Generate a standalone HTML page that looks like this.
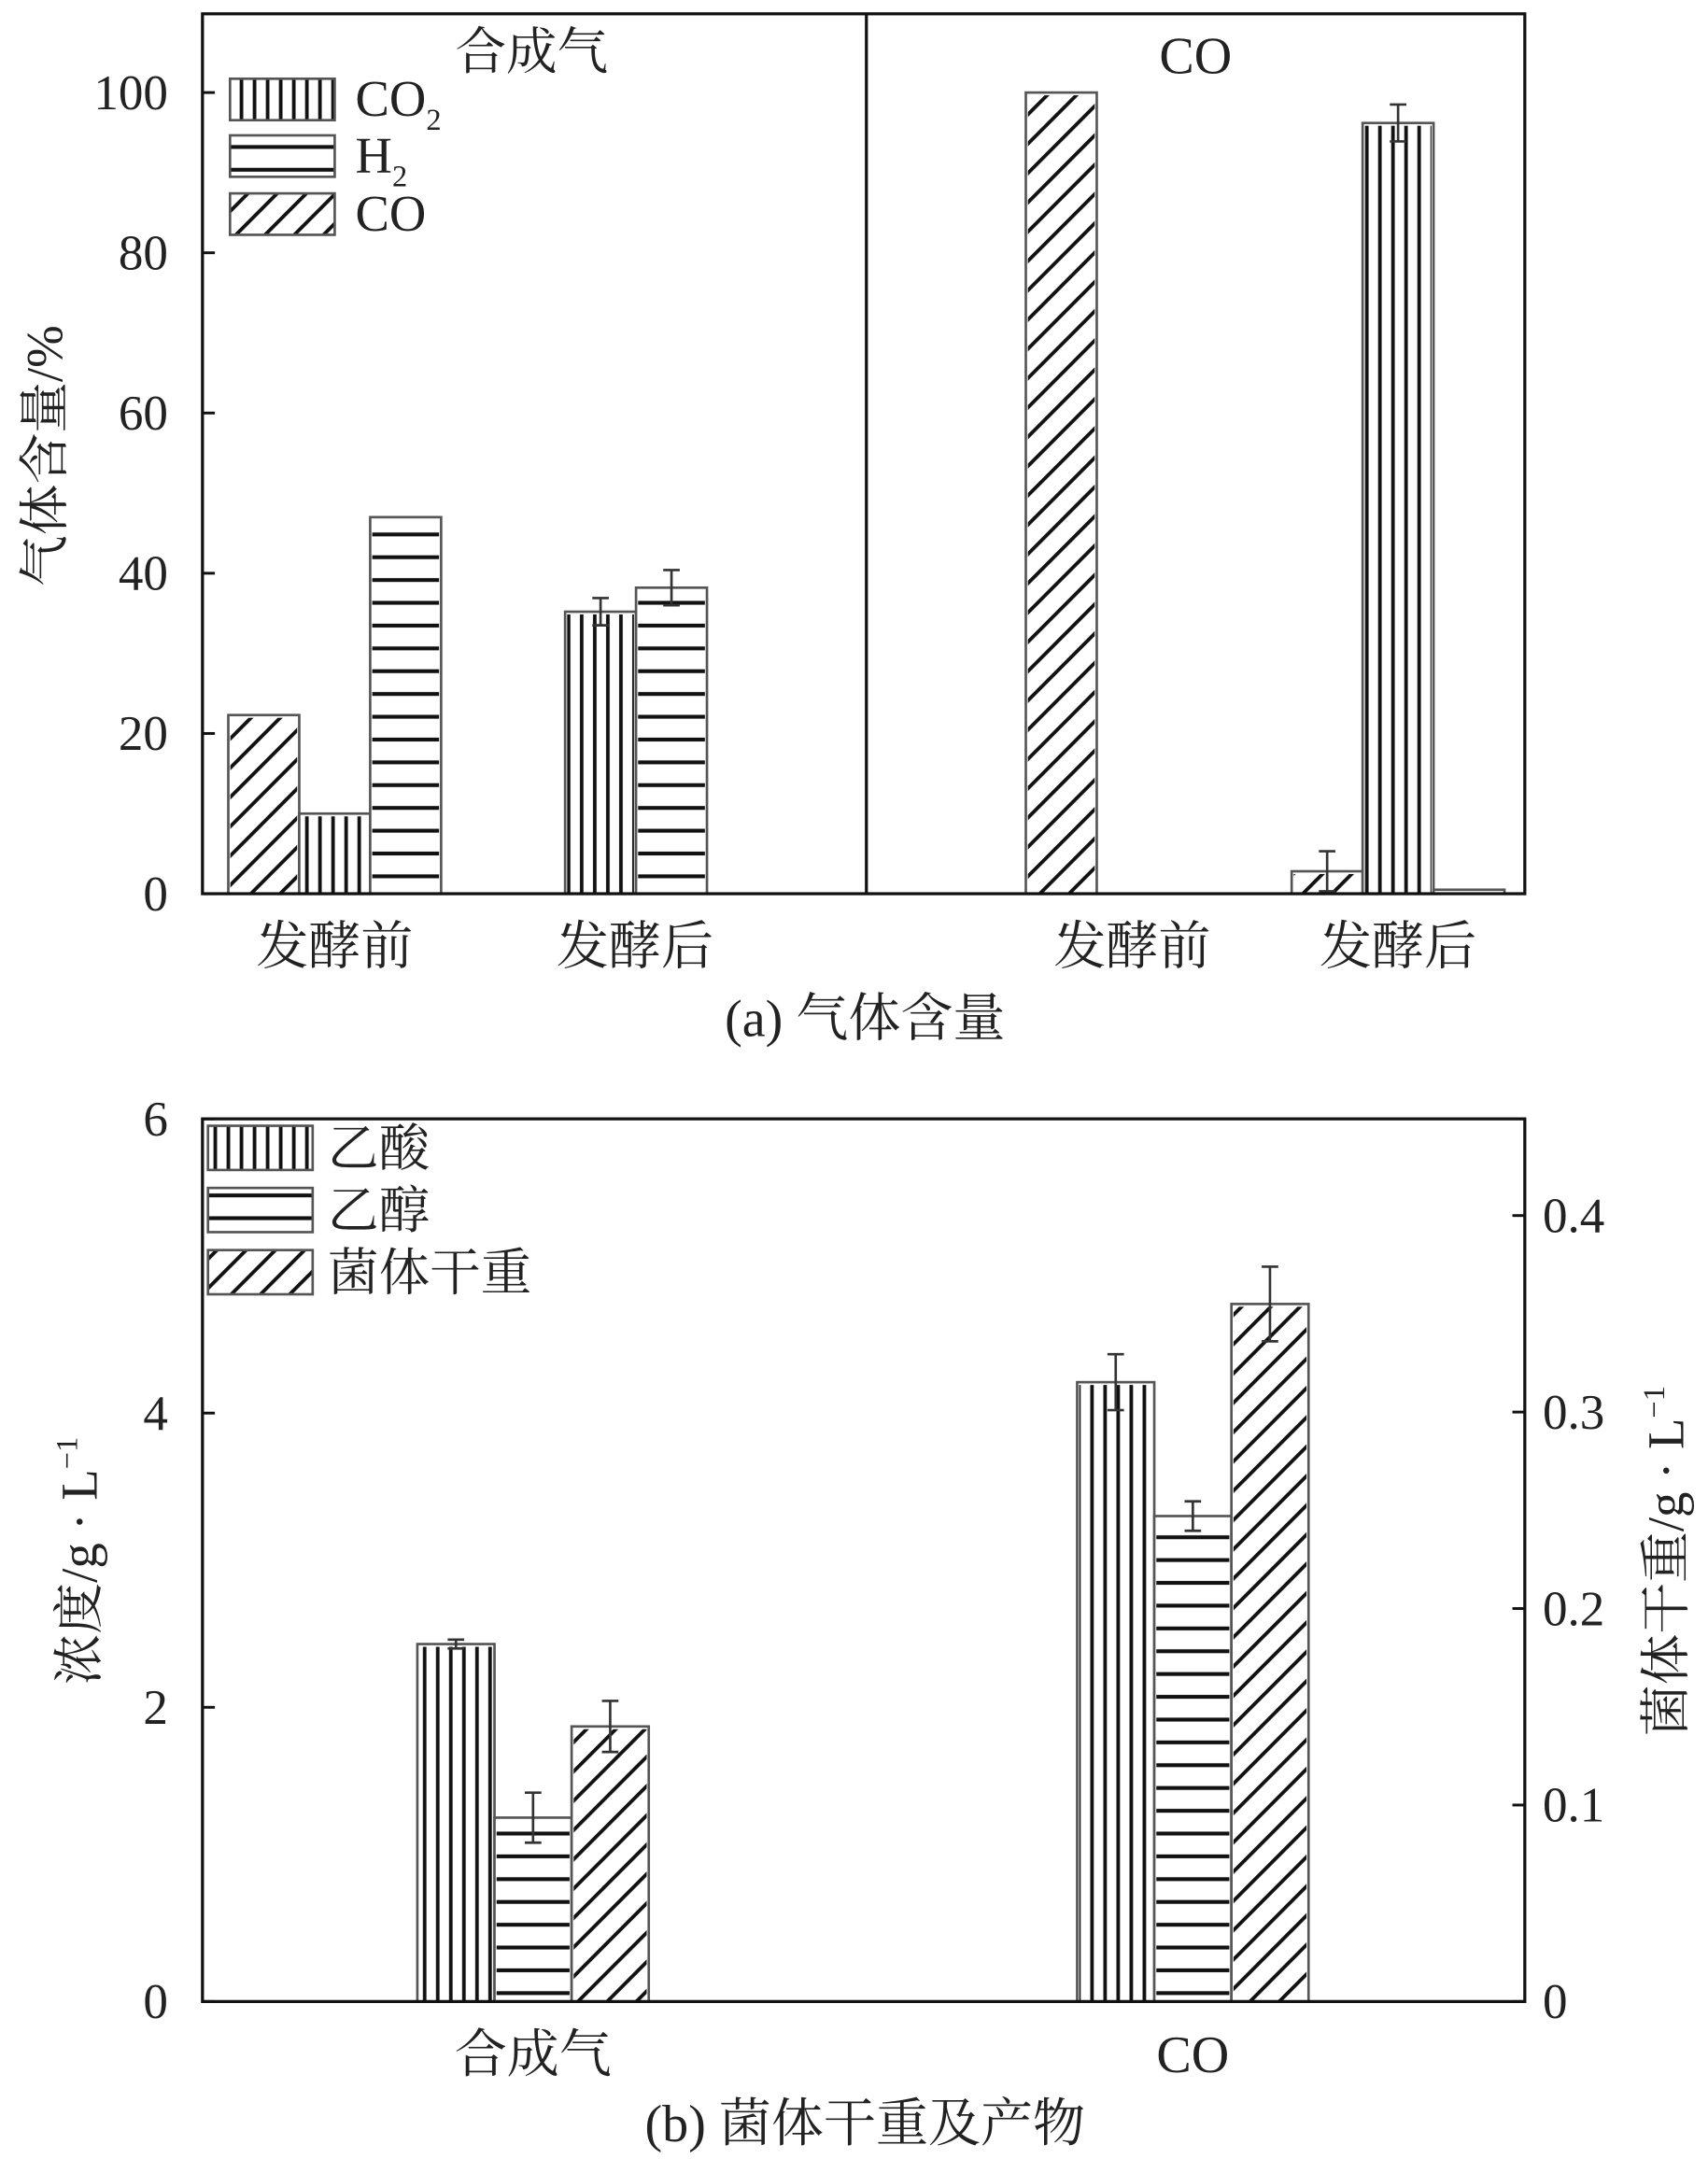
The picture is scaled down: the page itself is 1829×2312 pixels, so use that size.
<!DOCTYPE html>
<html><head><meta charset="utf-8"><style>
html,body{margin:0;padding:0;background:#fff}
svg{display:block}
text{font-family:"Liberation Serif","Noto Serif CJK SC","Noto Sans CJK SC",serif;fill:#222}
</style></head><body>
<svg id="chart" width="1829" height="2312" viewBox="0 0 1240 1563" preserveAspectRatio="none" xmlns="http://www.w3.org/2000/svg">
<defs>
<pattern id="pv" patternUnits="userSpaceOnUse" width="9.5" height="10"><rect x="3" y="0" width="2.6" height="10" fill="#111"/></pattern>
<pattern id="ph" patternUnits="userSpaceOnUse" width="10" height="16.5"><rect x="0" y="6" width="10" height="2.8" fill="#111"/></pattern>
<pattern id="pd" patternUnits="userSpaceOnUse" width="15" height="15" patternTransform="rotate(45)"><rect x="0" y="0" width="2.6" height="15" fill="#111"/></pattern>
</defs>
<g id="pa"></g>
<g id="pb"></g>
</svg>
<script>
// ---- Chart (a) data ----
const aCategories = ["发酵前","发酵后","发酵前","发酵后"];
const aSlots = [0,1,3,4];
const aCO  = [22.3, 0, 100, 2.8];
const aCO2 = [10, 35.2, 0, 96.2];
const aH2  = [47, 38.2, 0, 0.5];
const aCOerr  = [0, 0, 0, 2.5];
const aCO2err = [0, 1.7, 0, 2.3];
const aH2err  = [0, 2.2, 0, 0];
const aTicks = [0,20,40,60,80,100];
// ---- Chart (b) data ----
const bCategories = ["合成气","CO"];
const bAcid = [2.43, 4.21];
const bAcidErr = [0.03, 0.19];
const bEthanol = [1.25, 3.30];
const bEthanolErr = [0.17, 0.10];
const bBiomass = [0.14, 0.355];
const bBiomassErr = [0.013, 0.019];
const bLeftTicks = [0,2,4,6];
const bRightTicks = ["0","0.1","0.2","0.3","0.4"];

const NS="http://www.w3.org/2000/svg";
function mk(parent,tag,attrs,txt){const e=document.createElementNS(NS,tag);for(const k in attrs)e.setAttribute(k,attrs[k]);if(txt!==undefined)e.textContent=txt;parent.appendChild(e);return e;}

// ===== Chart A =====
const A=document.getElementById('pa');
const aL=147,aR=1107,aT=10,aB=647;
const ay=v=>aB-(v/100)*(aB-67);
const ax=i=>243+193*i;
const bw=51.5;
function errBar(g,x,top,bot){
  const e=mk(g,'path',{d:`M${x},${top}V${bot}M${x-6},${top}H${x+6}M${x-6},${bot}H${x+6}`,stroke:'#333','stroke-width':1.8,fill:'none'});
  
  
}
const aSeries=[[aCO,aCOerr,'pd','co'],[aCO2,aCO2err,'pv','co2'],[aH2,aH2err,'ph','h2']];
aSlots.forEach((s,gi)=>{
  const c=ax(s);
  aSeries.forEach((ser,si)=>{
    const v=ser[0][gi]; if(v<=0) return;
    const x0=c-1.5*bw+si*bw, y0=ay(v);
    const r=mk(A,'rect',{x:x0,y:y0,width:bw,height:aB-y0,fill:'#fff',stroke:'none'});
    
    
    mk(A,'rect',{x:x0+1.5,y:y0+2,width:bw-3,height:aB-y0-2,fill:`url(#${ser[2]})`});
    mk(A,'rect',{x:x0,y:y0,width:bw,height:aB-y0,fill:'none',stroke:'#555','stroke-width':1.8});
    const er=ser[1][gi];
    if(er>0) errBar(A,x0+bw/2,ay(v+er),ay(v-er));
  });
  const t=mk(A,'text',{x:c+(gi===1?25:0),y:698,'font-size':38,'text-anchor':'middle'},aCategories[gi]);
  
  
});
aTicks.forEach(v=>{
  mk(A,'line',{x1:aL,x2:aL+9,y1:ay(v),y2:ay(v),stroke:'#111','stroke-width':2});
  const t=mk(A,'text',{x:122,y:ay(v)+12,'font-size':36,'text-anchor':'end'},v);
  
  
});
mk(A,'rect',{x:aL,y:aT,width:aR-aL,height:aB-aT,fill:'none',stroke:'#111','stroke-width':2.2});
mk(A,'line',{x1:ax(2),x2:ax(2),y1:aT,y2:aB,stroke:'#111','stroke-width':2.2});
let t;
t=mk(A,'text',{x:386,y:50,'font-size':37,'text-anchor':'middle'},'合成气');
t=mk(A,'text',{x:868,y:53,'font-size':38,'text-anchor':'middle'},'CO');
t=mk(A,'text',{x:0,y:0,'font-size':37,'text-anchor':'middle',transform:'translate(45,330) rotate(-90)'},'气体含量/%');
t=mk(A,'text',{x:628,y:750,'font-size':38,'text-anchor':'middle'},'(a) 气体含量');
// legend A
[['pv',57,'CO','2'],['ph',98,'H','2'],['pd',140,'CO','']].forEach(l=>{
  const g=mk(A,'g',{});
  
  
  mk(g,'rect',{x:167,y:l[1],width:76,height:30,fill:`url(#${l[0]})`,stroke:'#555','stroke-width':1.8});
  const tx=mk(g,'text',{x:258,y:l[1]+27,'font-size':37},l[2]);
  if(l[3]){mk(tx,'tspan',{'font-size':22,dy:10},l[3]);}
});

// ===== Chart B =====
const B=document.getElementById('pb');
const bL=147,bR=1107,bT=810,bB=1449;
const byL=v=>bB-(v/6)*(bB-bT);
const byR=v=>bB-(v/0.4)*(bB-880);
const bx=i=>387+479*i;
const bbw=56;
const bSeries=[[bAcid,bAcidErr,'pv','acetic-acid',byL],[bEthanol,bEthanolErr,'ph','ethanol',byL],[bBiomass,bBiomassErr,'pd','dry-cell-weight',byR]];
bCategories.forEach((cat,gi)=>{
  const c=bx(gi);
  bSeries.forEach((ser,si)=>{
    const v=ser[0][gi],sc=ser[4];
    const x0=c-1.5*bbw+si*bbw,y0=sc(v);
    const r=mk(B,'rect',{x:x0,y:y0,width:bbw,height:bB-y0,fill:'#fff'});
    
    
    mk(B,'rect',{x:x0+1.5,y:y0+2,width:bbw-3,height:bB-y0-2,fill:`url(#${ser[2]})`});
    mk(B,'rect',{x:x0,y:y0,width:bbw,height:bB-y0,fill:'none',stroke:'#555','stroke-width':1.8});
    const er=ser[1][gi];
    errBar(B,x0+bbw/2,sc(v+er),sc(v-er));
  });
  const tt=mk(B,'text',{x:c,y:1500,'font-size':38,'text-anchor':'middle'},cat);
  
  
});
bLeftTicks.forEach(v=>{
  mk(B,'line',{x1:bL,x2:bL+9,y1:byL(v),y2:byL(v),stroke:'#111','stroke-width':2});
  const tt=mk(B,'text',{x:122,y:byL(v)+12,'font-size':36,'text-anchor':'end'},v);
  
  
});
bRightTicks.forEach(s=>{
  const v=parseFloat(s);
  mk(B,'line',{x1:bR-9,x2:bR,y1:byR(v),y2:byR(v),stroke:'#111','stroke-width':2});
  const tt=mk(B,'text',{x:1120,y:byR(v)+12,'font-size':36},s);
  
  
});
mk(B,'rect',{x:bL,y:bT,width:bR-bL,height:bB-bT,fill:'none',stroke:'#111','stroke-width':2.2});
t=mk(B,'text',{x:0,y:0,'font-size':37,'text-anchor':'middle',transform:'translate(70,1130) rotate(-90)'});
t.innerHTML='浓度/g · L<tspan font-size="22" dy="-14">−1</tspan>';

t=mk(B,'text',{x:0,y:0,'font-size':37,'text-anchor':'middle',transform:'translate(1222,1130) rotate(-90)'});
t.innerHTML='菌体干重/g · L<tspan font-size="22" dy="-14">−1</tspan>';

t=mk(B,'text',{x:628,y:1550,'font-size':38,'text-anchor':'middle'},'(b) 菌体干重及产物');
[['pv',815,'乙酸'],['ph',860,'乙醇'],['pd',905,'菌体干重']].forEach(l=>{
  const g=mk(B,'g',{});
  
  
  mk(g,'rect',{x:151,y:l[1],width:76,height:32,fill:`url(#${l[0]})`,stroke:'#555','stroke-width':1.8});
  mk(g,'text',{x:238,y:l[1]+29,'font-size':37},l[2]);
});
</script>
</body></html>
